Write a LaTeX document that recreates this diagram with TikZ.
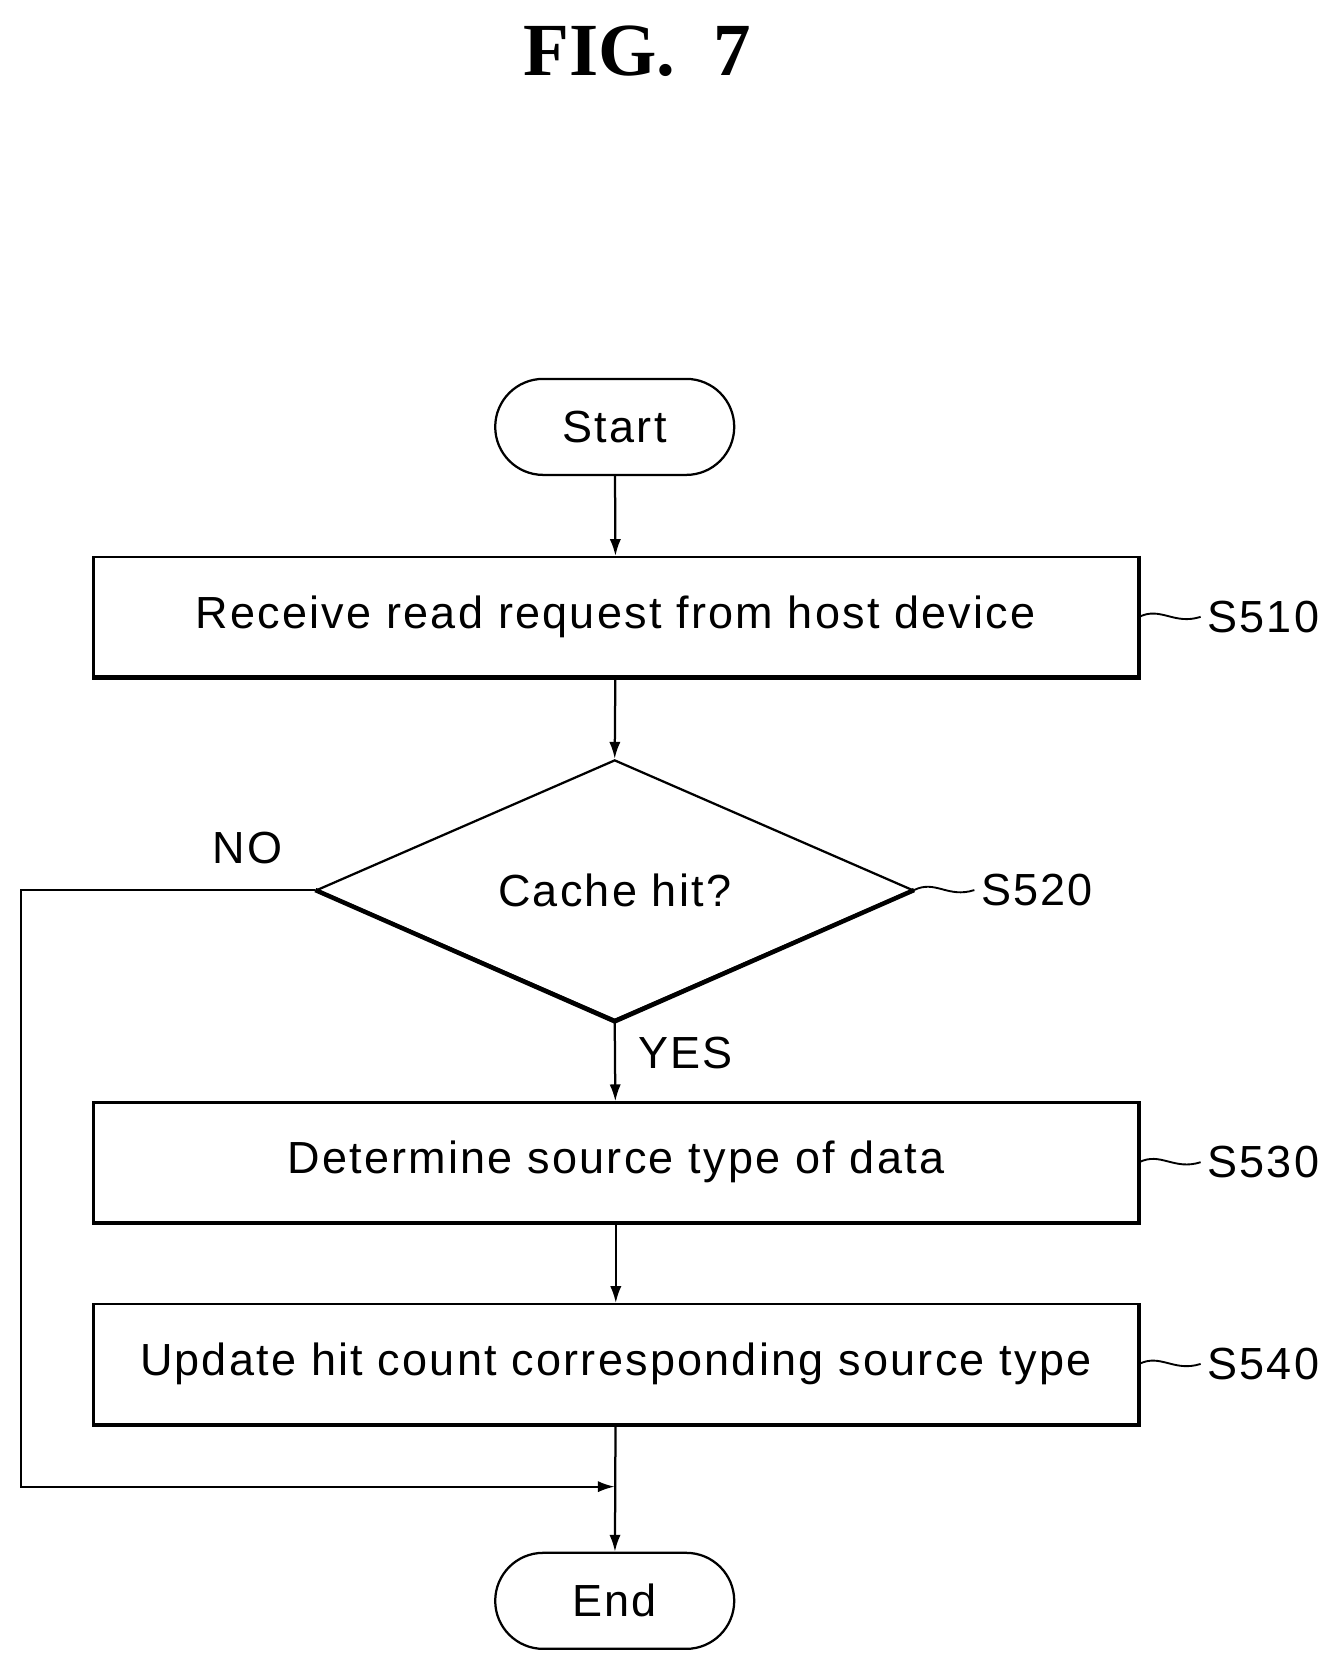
\documentclass[tikz,border=0pt]{standalone}
\usepackage{fontspec}
\setmainfont[LetterSpace=5]{Liberation Sans}
\newfontfamily\titlefont{Liberation Serif}
\usetikzlibrary{shapes.geometric,positioning,calc,arrows.meta}
\tikzset{
  box/.style={draw, line width=1.2pt, minimum width=19.58cm, minimum height=2.24cm, font=\fontsize{24}{28}\selectfont},
  term/.style={draw, line width=1.2pt, rounded corners=0.9cm, minimum width=4.48cm, minimum height=1.8cm, font=\fontsize{24}{28}\selectfont},
  dec/.style={draw, line width=1.2pt, diamond, aspect=2.29, minimum width=11.18cm, minimum height=4.88cm, inner sep=0pt, font=\fontsize{24}{28}\selectfont},
  tag/.style={font=\fontsize{24}{28}\selectfont},
  arr/.style={line width=1.2pt, -{Latex[length=9pt,width=6pt]}}
}
\begin{document}
\begin{tikzpicture}[x=0.02cm,y=-0.02cm]
  \useasboundingbox (0,0) rectangle (1250,1562);
  % Titel
  \node[font=\fontsize{40}{44}\titlefont\bfseries] (title) at (597,48) {FIG.~~7};

  % Knoten
  \node[term] (start) at (576,400) {Start};
  \node[box] (s510) at (577,578) {Receive read request from host device};
  \node[dec] (s520) at (576,834) {Cache hit?};
  \node[box] (s530) at (577,1089) {Determine source type of data};
  \node[box] (s540) at (577,1278) {Update hit count corresponding source type};
  \node[term] (end) at (576,1500) {End};

  % Schatten
  \foreach \n in {s510,s530,s540}
    \draw[line width=2.4pt] (\n.north east) -- (\n.south east) -- (\n.south west);
  \draw[line width=2.4pt] (s520.west) -- (s520.south) -- (s520.east);

  % Schrittnummern
  \node[tag, anchor=west] (l510) at (1125,578) {S510};
  \node[tag, anchor=west] (l520) at (913,834) {S520};
  \node[tag, anchor=west] (l530) at (1125,1089) {S530};
  \node[tag, anchor=west] (l540) at (1125,1278) {S540};
  \foreach \n/\l in {s510/l510,s520/l520,s530/l530,s540/l540}
    \draw[line width=1pt] (\n.east) .. controls ($(\n.east)+(20,-10)$) and ($(\l.west)+(-25,8)$) .. (\l.west);

  % Pfeile
  \draw[arr] (start) -- (s510);
  \draw[arr] (s510) -- (s520.north);
  \draw[arr] (s520.south) -- (s530) node[pos=0.4, right=0.3cm, tag] {YES};
  \draw[arr] (s530) -- (s540);
  \draw[arr] (s540) -- (end);
  \coordinate (join) at (576,1393);
  \draw[arr] (s520.west) -- (20,834) -- (20,1393) -- (join);
  \node[tag] (no) at (232,795) {NO};
\end{tikzpicture}
\end{document}
